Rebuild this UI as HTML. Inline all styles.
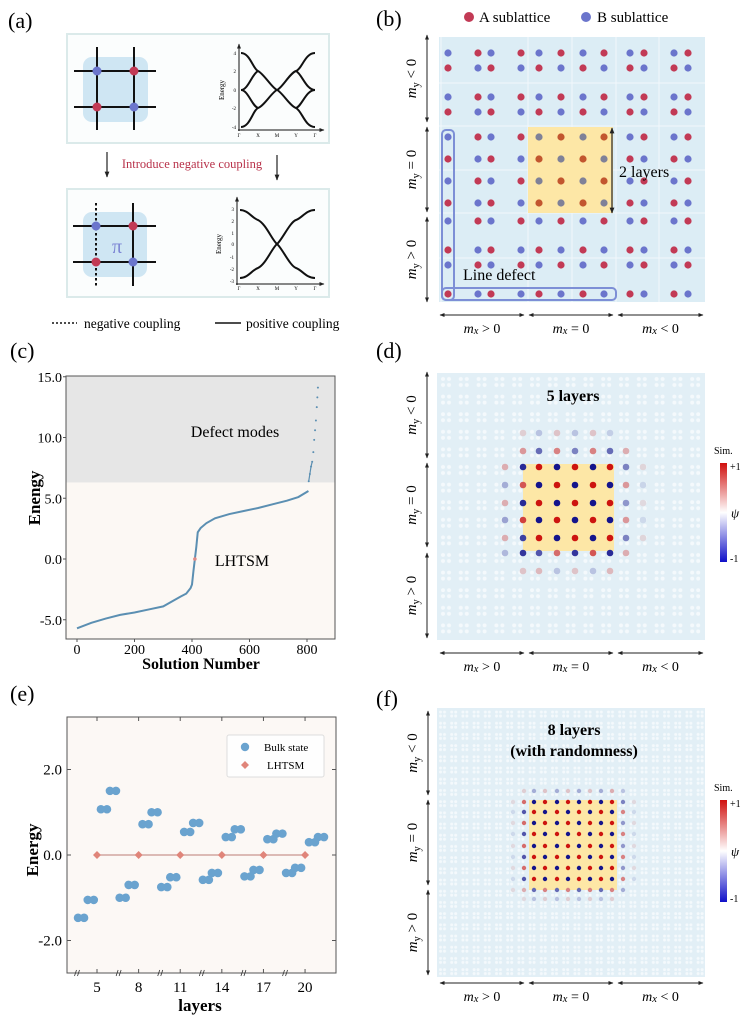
<!DOCTYPE html>
<html><head><meta charset="utf-8">
<style>
html,body{margin:0;padding:0;background:#fff;}
svg{display:block;font-family:"Liberation Serif",serif;}
</style></head>
<body>
<svg id="fig" width="752" height="1024" viewBox="0 0 752 1024" xmlns="http://www.w3.org/2000/svg">
<defs>
<marker id="ah" viewBox="0 0 10 10" refX="9" refY="5" markerWidth="5" markerHeight="5" orient="auto-start-reverse"><path d="M0,1 L10,5 L0,9 z" fill="#222"/></marker>
<linearGradient id="cbar" x1="0" y1="0" x2="0" y2="1">
<stop offset="0" stop-color="#d0100e"/><stop offset="0.5" stop-color="#ffffff"/><stop offset="1" stop-color="#1010c8"/></linearGradient>
<pattern id="wdots" width="17.8" height="17.6" patternUnits="userSpaceOnUse" x="437" y="373">
<rect width="17.8" height="17.6" fill="#e2eff6"/>
<circle cx="6" cy="6" r="2" fill="#f4f9fc"/><circle cx="12" cy="6" r="2" fill="#f4f9fc"/>
<circle cx="6" cy="12" r="2" fill="#f4f9fc"/><circle cx="12" cy="12" r="2" fill="#f4f9fc"/>
</pattern>
<pattern id="wdots2" width="11.2" height="11.2" patternUnits="userSpaceOnUse" x="437" y="708">
<rect width="11.2" height="11.2" fill="#e2eff6"/>
<circle cx="3.5" cy="4" r="1.5" fill="#f4f9fc"/><circle cx="7.5" cy="4" r="1.5" fill="#f4f9fc"/>
<circle cx="3.5" cy="8" r="1.5" fill="#f4f9fc"/><circle cx="7.5" cy="8" r="1.5" fill="#f4f9fc"/>
</pattern>
</defs>

<g>
<text x="8" y="28" font-size="22">(a)</text>
<rect x="67" y="34" width="262" height="109" fill="#fbfdfd" stroke="#dbeaea" stroke-width="2"/>
<g>
<rect x="83" y="57" width="65" height="65" rx="9" fill="#cfe6f3"/>
<g stroke="#111" stroke-width="2"><line x1="97" y1="47" x2="97" y2="130"/><line x1="134" y1="47" x2="134" y2="130"/><line x1="74" y1="71" x2="156" y2="71"/><line x1="74" y1="107" x2="156" y2="107"/></g>
<circle cx="97" cy="71" r="4.5" fill="#6b75cc"/><circle cx="134" cy="71" r="4.5" fill="#c23a55"/>
<circle cx="97" cy="107" r="4.5" fill="#c23a55"/><circle cx="134" cy="107" r="4.5" fill="#6b75cc"/>
</g>
<g font-size="5">
<line x1="239" y1="131" x2="239" y2="44" stroke="#111" stroke-width="1" marker-end="url(#ah)"/>
<line x1="238" y1="130" x2="324" y2="130" stroke="#111" stroke-width="1" marker-end="url(#ah)"/>
<g text-anchor="end"><text x="236" y="55">4</text><text x="236" y="73">2</text><text x="236" y="92">0</text><text x="236" y="110">-2</text><text x="236" y="129">-4</text></g>
<g text-anchor="middle"><text x="239" y="137">Γ</text><text x="258" y="137">X</text><text x="277" y="137">M</text><text x="296" y="137">Y</text><text x="315" y="137">Γ</text></g>
<text transform="translate(224,90) rotate(-90)" text-anchor="middle" font-size="7">Energy</text>
<g fill="none" stroke="#111" stroke-width="2">
<path d="M241 53 C250 53 253 69 258 71 C264 74 272 88 277 90 C282 92 290 106 296 108 C302 111 305 127 315 127"/>
<path d="M241 127 C250 127 253 110 258 108 C264 106 272 92 277 90 C282 88 290 73 296 71 C302 69 305 53 315 53"/>
<path d="M241 90 C248 90 252 74 258 71 M241 90 C248 90 252 106 258 108 M296 71 C302 74 306 90 315 90 M296 108 C302 106 306 90 315 90"/>
</g></g>
<line x1="107" y1="152" x2="107" y2="177" stroke="#222" stroke-width="1.2" marker-end="url(#ah)"/>
<line x1="277" y1="155" x2="277" y2="180" stroke="#222" stroke-width="1.2" marker-end="url(#ah)"/>
<text x="192" y="168" font-size="12.5" fill="#b8324a" text-anchor="middle">Introduce negative coupling</text>
<rect x="67" y="189" width="262" height="108" fill="#fbfdfd" stroke="#dbeaea" stroke-width="2"/>
<g>
<rect x="83" y="212" width="64" height="65" rx="9" fill="#cfe6f3"/>
<g stroke="#111" stroke-width="2"><line x1="133" y1="203" x2="133" y2="286"/><line x1="73" y1="226" x2="156" y2="226"/><line x1="73" y1="262" x2="156" y2="262"/></g>
<line x1="96" y1="203" x2="96" y2="286" stroke="#111" stroke-width="2" stroke-dasharray="2.5,2.5"/>
<circle cx="96" cy="226" r="4.5" fill="#6b75cc"/><circle cx="133" cy="226" r="4.5" fill="#c23a55"/>
<circle cx="96" cy="262" r="4.5" fill="#c23a55"/><circle cx="133" cy="262" r="4.5" fill="#6b75cc"/>
<text x="117" y="253" font-size="20" fill="#7d86d4" text-anchor="middle">π</text>
</g>
<g font-size="5">
<line x1="237" y1="285" x2="237" y2="197" stroke="#111" stroke-width="1" marker-end="url(#ah)"/>
<line x1="236" y1="284" x2="324" y2="284" stroke="#111" stroke-width="1" marker-end="url(#ah)"/>
<g text-anchor="end"><text x="234" y="211">3</text><text x="234" y="223">2</text><text x="234" y="235">1</text><text x="234" y="246">0</text><text x="234" y="259">-1</text><text x="234" y="271">-2</text><text x="234" y="283">-3</text></g>
<g text-anchor="middle"><text x="239" y="290">Γ</text><text x="258" y="290">X</text><text x="277" y="290">M</text><text x="296" y="290">Y</text><text x="315" y="290">Γ</text></g>
<text transform="translate(221,244) rotate(-90)" text-anchor="middle" font-size="7">Energy</text>
<g fill="none" stroke="#111" stroke-width="2">
<path d="M240 210 C248 210 252 218 258 220 C266 224 272 240 277 244 C282 248 290 266 296 268 C302 270 306 278 315 278"/>
<path d="M240 278 C248 278 252 270 258 268 C266 264 272 248 277 244 C282 240 290 222 296 220 C302 218 306 210 315 210"/>
</g></g>
<g font-size="13.5">
<line x1="52" y1="323" x2="77" y2="323" stroke="#111" stroke-width="1.5" stroke-dasharray="2,2"/>
<text x="84" y="328">negative coupling</text>
<line x1="215" y1="323" x2="241" y2="323" stroke="#111" stroke-width="1.5"/>
<text x="246" y="328">positive  coupling</text>
</g>
</g>

<g id="pb">
<text x="376" y="26" font-size="22">(b)</text>
<g font-size="15">
<circle cx="469" cy="17" r="5" fill="#c23a55"/><text x="479" y="22">A sublattice</text>
<circle cx="586" cy="17" r="5" fill="#6b75cc"/><text x="597" y="22">B sublattice</text>
</g>
<rect x="439" y="37" width="266" height="265" fill="#dcedf5"/>
<g stroke="#f2f8fb" stroke-width="1">
<line x1="441" y1="37" x2="441" y2="302"/><line x1="528" y1="37" x2="528" y2="302"/><line x1="572" y1="37" x2="572" y2="302"/><line x1="616" y1="37" x2="616" y2="302"/><line x1="659" y1="37" x2="659" y2="302"/>
<line x1="439" y1="83" x2="705" y2="83"/><line x1="439" y1="126" x2="705" y2="126"/><line x1="439" y1="170" x2="705" y2="170"/><line x1="439" y1="213" x2="705" y2="213"/><line x1="439" y1="258" x2="705" y2="258"/>
</g>
<rect x="528" y="127" width="85" height="86" fill="#fde7a6"/>
<g id="bdots"></g>
<line x1="612" y1="128" x2="612" y2="213" stroke="#222" stroke-width="1.2" marker-start="url(#ah)" marker-end="url(#ah)"/>
<text x="619" y="177" font-size="16">2 layers</text>
<rect x="442" y="130" width="12" height="170" rx="4" fill="none" stroke="#7d8fd6" stroke-width="2"/>
<rect x="442" y="288" width="174" height="12" rx="4" fill="none" stroke="#7d8fd6" stroke-width="2"/>
<text x="463" y="280" font-size="16">Line defect</text>
</g>

<g id="pc">
<text x="10" y="358" font-size="22">(c)</text>
</g>

<g id="pd">
<text x="376" y="358" font-size="22">(d)</text>
<rect x="437" y="373" width="268" height="267" fill="url(#wdots)"/>
<rect x="523" y="464" width="91" height="87" fill="#fde7a6"/>
<text x="573" y="401" font-size="16" font-weight="bold" text-anchor="middle">5 layers</text>
</g>

<g id="pe">
<text x="10" y="701" font-size="22">(e)</text>
</g>

<g id="pf">
<text x="376" y="706" font-size="22">(f)</text>
<rect x="437" y="708" width="268" height="269" fill="url(#wdots2)"/>
<rect x="529" y="800" width="88" height="90" fill="#fde7a6"/>
<text x="574" y="735" font-size="16" font-weight="bold" text-anchor="middle">8 layers</text>
<text x="574" y="756" font-size="16" font-weight="bold" text-anchor="middle">(with randomness)</text>
</g>
</svg>

<script>
// ---- Panel (c) data ----
const cSolution = [0, 50, 100, 150, 200, 250, 300, 330, 360, 380, 395, 400, 405, 415, 420, 430, 450, 480, 530, 580, 630, 680, 730, 770, 805];
const cEnergy = [-5.7, -5.25, -4.9, -4.6, -4.4, -4.15, -3.9, -3.5, -3.1, -2.85, -2.4, -2.1, -1.0, 1.0, 2.2, 2.55, 2.95, 3.35, 3.7, 3.95, 4.2, 4.5, 4.8, 5.1, 5.6];
const cDefectSolution = [806, 810, 814, 818, 822, 825, 828, 831, 834, 836, 838];
const cDefectEnergy = [6.4, 7.0, 7.6, 8.0, 8.8, 9.8, 10.6, 11.4, 12.5, 13.3, 14.1];
const cLhtsm = [410, 0];
const cYTicks = [15, 10, 5, 0, -5];
const cYTickLabels = ["15.0", "10.0", "5.0", "0.0", "-5.0"];
const cXTicks = [0, 200, 400, 600, 800];
const cDefectThreshold = 6.3;

// ---- Panel (e) data ----
const eBulkLayer = [3.85, 4.55, 5.5, 6.15, 6.85, 7.5, 8.5, 9.15, 9.85, 10.5, 11.5, 12.15, 12.85, 13.5, 14.5, 15.15, 15.85, 16.5, 17.5, 18.15, 18.85, 19.5, 20.5, 21.15];
const eBulkEnergy = [-1.47, -1.05, 1.07, 1.5, -1.0, -0.7, 0.72, 1.0, -0.75, -0.52, 0.54, 0.75, -0.58, -0.42, 0.42, 0.6, -0.5, -0.35, 0.37, 0.5, -0.42, -0.3, 0.3, 0.42];
const eLhtsmLayer = [5, 8, 11, 14, 17, 20];
const eLhtsmEnergy = [0, 0, 0, 0, 0, 0];
const eXTicks = [5, 8, 11, 14, 17, 20];
const eYTicks = [2, 0, -2];
const eYTickLabels = ["2.0", "0.0", "-2.0"];

// ---- Panel (d) wavefunction amplitudes ----
const dPsi = [
 [0, 0.15, -0.2, 0.2, -0.2, 0.2, -0.15, 0, 0],
 [0, 0.4, -0.6, 0.5, -0.5, 0.5, -0.6, 0.3, 0],
 [0.3, -0.9, 1, -1, 1, -1, 1, -0.5, 0.12],
 [-0.3, 0.7, -1, 1, -1, 1, -1, 0.4, -0.12],
 [0.3, -0.9, 1, -1, 1, -1, 1, -0.4, 0.1],
 [-0.35, 0.8, -1, 1, -1, 1, -1, 0.4, -0.1],
 [0.3, -0.8, 1, -1, 1, -1, 1, -0.5, 0.12],
 [-0.25, -0.85, -0.7, 0.6, -0.85, 0.7, -0.9, 0.3, 0],
 [0, 0.2, 0.25, -0.2, 0.2, -0.2, 0.25, 0, 0]
];
// ---- Panel (f) wavefunction amplitudes ----
const fPsi = [
 [0, 0.15, -0.3, 0.2, -0.3, 0.2, -0.3, 0.2, -0.3, 0.3, -0.2, 0],
 [0.1, 0.6, -1, 1, -1, 1, -1, 1, -1, 1, -0.5, 0.1],
 [-0.1, -0.7, 1, -1, 1, -1, 1, -1, 1, -1, 0.5, -0.1],
 [0.1, 0.6, -1, 1, -1, 1, -1, 1, -1, 1, -0.4, 0.1],
 [-0.1, -0.7, 1, -1, 1, -1, 1, -1, 1, -1, 0.5, -0.1],
 [0.1, 0.6, -1, 1, -1, 1, -1, 1, -1, 1, -0.4, 0.1],
 [-0.1, -0.7, 1, -1, 1, -1, 1, -1, 1, -1, 0.5, -0.1],
 [0.1, 0.6, -1, 1, -1, 1, -1, 1, -1, 1, -0.4, 0.1],
 [-0.1, -0.7, 1, -1, 1, -1, 1, -1, 1, -1, 0.5, -0.1],
 [0.1, 0.3, -0.6, 0.5, -0.6, 0.5, -0.6, 0.5, -0.6, 0.5, -0.3, 0],
 [0, 0.1, -0.2, 0.15, -0.2, 0.15, -0.2, 0.15, -0.2, 0.15, 0, 0]
];

const NS = "http://www.w3.org/2000/svg";
function mk(tag, attrs, parent) {
  const el = document.createElementNS(NS, tag);
  for (const k in attrs) el.setAttribute(k, attrs[k]);
  parent.appendChild(el);
  return el;
}
function txt(parent, x, y, s, attrs) {
  const t = mk("text", Object.assign({x: x, y: y}, attrs || {}), parent);
  t.textContent = s;
  return t;
}
function psiColor(v) {
  const a = Math.min(1, Math.abs(v));
  const end = v >= 0 ? [205, 20, 15] : [20, 20, 140];
  const base = [226, 239, 246];
  const c = base.map((b, i) => Math.round(b + (end[i] - b) * a));
  return "rgb(" + c.join(",") + ")";
}

(function () {
  const g = document.getElementById("bdots");
  const cols = [448, 478, 491, 521, 539, 561, 583, 604, 630, 644, 674, 688];
  const rows = [53, 68, 97, 112, 137, 159, 181, 203, 221, 250, 265, 294];
  rows.forEach((y, r) => cols.forEach((x, c) => {
    const isB = (r + c) % 2 === 0;
    const inCore = x > 528 && x < 613 && y > 127 && y < 213;
    const col = inCore ? (isB ? "#7f8198" : "#c2562f") : (isB ? "#6b75cc" : "#c23a55");
    const d = mk("circle", {cx: x, cy: y, r: 3.6, fill: col}, g);
    
    
  }));
})();

function latticeAxes(parent, xL, yBands, yArrow, xBands, yLab, fs) {
  const g = mk("g", {}, parent);
  
  
  const ylabs = ["<", "=", ">"];
  yBands.forEach((b, i) => {
    mk("line", {x1: xL, y1: b[0], x2: xL, y2: b[1], stroke: "#222", "stroke-width": 1, "marker-start": "url(#ah)", "marker-end": "url(#ah)"}, g);
    const cy = (b[0] + b[1]) / 2;
    const t = mk("text", {transform: "translate(" + (xL - 11) + "," + cy + ") rotate(-90)", "text-anchor": "middle", "font-size": fs}, g);
    t.innerHTML = '<tspan font-style="italic">m</tspan><tspan font-size="' + (fs * 0.7) + '" dy="3">y</tspan><tspan dy="-3"> ' + ylabs[i] + ' 0</tspan>';
    
    
  });
  const xlabs = [">", "=", "<"];
  xBands.forEach((b, i) => {
    mk("line", {x1: b[0], y1: yArrow, x2: b[1], y2: yArrow, stroke: "#222", "stroke-width": 1, "marker-start": "url(#ah)", "marker-end": "url(#ah)"}, g);
    const t = mk("text", {x: (b[0] + b[1]) / 2, y: yLab, "text-anchor": "middle", "font-size": fs - 1}, g);
    t.innerHTML = '<tspan font-style="italic">m</tspan><tspan font-size="' + (fs * 0.7) + '" font-style="italic" dy="1">x</tspan><tspan dy="-1"> ' + xlabs[i] + ' 0</tspan>';
    
    
  });
}
const xb = [[440, 524], [529, 613], [618, 703]];
latticeAxes(document.getElementById("pb"), 427, [[35, 122], [127, 212], [217, 302]], 315, xb, 333, 15);
latticeAxes(document.getElementById("pd"), 427, [[372, 458], [463, 547], [553, 638]], 653, xb, 671, 15);
latticeAxes(document.getElementById("pf"), 428, [[711, 795], [800, 885], [890, 975]], 983, xb, 1001, 15);

function psiGrid(parent, psi, cols, rows, r, name) {
  const g = mk("g", {}, parent);
  
  
  psi.forEach((row, i) => row.forEach((v, j) => {
    if (Math.abs(v) < 0.05) return;
    const c = mk("circle", {cx: cols[j], cy: rows[i], r: r, fill: psiColor(v)}, g);
    
    
  }));
}
psiGrid(document.getElementById("pd"), dPsi, [505, 523, 539, 557, 575, 593, 610, 626, 643], [433, 451, 467, 485, 503, 520, 538, 553, 571], 3.3, "psi-sites-d");
psiGrid(document.getElementById("pf"), fPsi, [513, 524, 534, 545, 557, 568, 579, 590, 601, 612, 623, 634], [791, 802, 812, 823, 834, 846, 857, 868, 879, 890, 899], 2.2, "psi-sites-f");

function colorbar(parent, y0, y1) {
  const g = mk("g", {}, parent);
  
  
  mk("rect", {x: 720, y: y0, width: 7, height: y1 - y0, fill: "url(#cbar)"}, g);
  txt(g, 714, y0 - 9, "Sim.", {"font-size": 10});
  txt(g, 730, y0 + 7, "+1", {"font-size": 10});
  txt(g, 731, (y0 + y1) / 2 + 5, "ψ", {"font-size": 13, "font-style": "italic"});
  txt(g, 730, y1, "-1", {"font-size": 10});
}
colorbar(document.getElementById("pd"), 463, 562);
colorbar(document.getElementById("pf"), 800, 902);

(function () {
  const p = document.getElementById("pc");
  const L = 66, R = 335, T = 376, B = 639;
  const X = n => 77 + n * 0.2875;
  const Y = e => 559 - e * 12.15;
  const bg = mk("rect", {x: L, y: Y(cDefectThreshold), width: R - L, height: B - Y(cDefectThreshold), fill: "#fcf8f4"}, p);
  
  
  const gr = mk("rect", {x: L, y: T, width: R - L, height: Y(cDefectThreshold) - T, fill: "#e6e6e6"}, p);
  
  
  const fr = mk("rect", {x: L, y: T, width: R - L, height: B - T, fill: "none", stroke: "#555", "stroke-width": 1}, p);
  
  
  const line = mk("polyline", {points: cSolution.map((n, i) => X(n) + "," + Y(cEnergy[i])).join(" "), fill: "none", stroke: "#5b8fb2", "stroke-width": 2}, p);
  
  
  cDefectSolution.forEach((n, i) => {
    const d = mk("circle", {cx: X(n), cy: Y(cDefectEnergy[i]), r: 1, fill: "#5b8fb2"}, p);
    
    
  });
  const dl = mk("polyline", {points: cDefectSolution.slice(0, 4).map((n, i) => X(n) + "," + Y(cDefectEnergy[i])).join(" "), fill: "none", stroke: "#5b8fb2", "stroke-width": 1.2}, p);
  
  
  const lh = mk("circle", {cx: X(cLhtsm[0]), cy: Y(cLhtsm[1]), r: 1.8, fill: "#e08a85"}, p);
  
  
  cYTicks.forEach((v, i) => {
    mk("line", {x1: L - 3, y1: Y(v), x2: L, y2: Y(v), stroke: "#555"}, p);
    const t = txt(p, L - 4, Y(v) + 5, cYTickLabels[i], {"font-size": 14, "text-anchor": "end"});
    
    
  });
  cXTicks.forEach(v => {
    mk("line", {x1: X(v), y1: B, x2: X(v), y2: B + 3, stroke: "#555"}, p);
    const t = txt(p, X(v), B + 15, String(v), {"font-size": 14, "text-anchor": "middle"});
    
    
  });
  const a = txt(p, 235, 437, "Defect  modes", {"font-size": 16, "text-anchor": "middle"});
  
  
  const b = txt(p, 242, 566, "LHTSM", {"font-size": 16, "text-anchor": "middle"});
  
  
  const yl = txt(p, 0, 0, "Enengy", {"font-size": 17, "font-weight": "bold", "text-anchor": "middle", transform: "translate(40,498) rotate(-90)"});
  
  
  const xl = txt(p, 201, 669, "Solution Number", {"font-size": 16, "font-weight": "bold", "text-anchor": "middle"});
  
  
})();

(function () {
  const p = document.getElementById("pe");
  const L = 67, R = 336, T = 717, B = 973;
  const X = l => 97 + (l - 5) * 13.87;
  const Y = e => 855 - e * 42.75;
  const bg = mk("rect", {x: L, y: T, width: R - L, height: B - T, fill: "#fcf8f5", stroke: "#555", "stroke-width": 1}, p);
  
  
  eXTicks.forEach(v => {
    mk("line", {x1: X(v), y1: T, x2: X(v), y2: T + 4, stroke: "#555"}, p);
    mk("line", {x1: X(v), y1: B, x2: X(v), y2: B - 4, stroke: "#555"}, p);
    const bx = X(v) - 20;
    mk("path", {d: "M" + (bx - 2.5) + " " + (B + 3) + " l2 -6 M" + (bx + 0.5) + " " + (B + 3) + " l2 -6", stroke: "#333", "stroke-width": 0.8, fill: "none"}, p);
    const t = txt(p, X(v), B + 19, String(v), {"font-size": 15, "text-anchor": "middle"});
    
    
  });
  eYTicks.forEach((v, i) => {
    mk("line", {x1: L, y1: Y(v), x2: L + 4, y2: Y(v), stroke: "#555"}, p);
    mk("line", {x1: R, y1: Y(v), x2: R - 4, y2: Y(v), stroke: "#555"}, p);
    const t = txt(p, L - 5, Y(v) + 5, eYTickLabels[i], {"font-size": 15, "text-anchor": "end"});
    
    
  });
  const ln = mk("line", {x1: X(eLhtsmLayer[0]), y1: Y(eLhtsmEnergy[0]), x2: X(eLhtsmLayer[eLhtsmLayer.length - 1]), y2: Y(eLhtsmEnergy[eLhtsmEnergy.length - 1]), stroke: "#c9948f", "stroke-width": 1.2}, p);
  
  
  eBulkLayer.forEach((l, i) => {
    [-3, 3].forEach(dx => {
      const c = mk("circle", {cx: X(l) + dx, cy: Y(eBulkEnergy[i]), r: 4.3, fill: "#6aa3cf"}, p);
      
      
    });
  });
  eLhtsmLayer.forEach((l, i) => {
    const x = X(l), y = Y(eLhtsmEnergy[i]);
    const d = mk("path", {d: "M" + x + " " + (y - 4) + " L" + (x + 4) + " " + y + " L" + x + " " + (y + 4) + " L" + (x - 4) + " " + y + "z", fill: "#e0857a"}, p);
    
    
  });
  const lg = mk("g", {}, p);
  
  
  mk("rect", {x: 227, y: 735, width: 97, height: 42, fill: "#fefefe", stroke: "#ddd", rx: 2}, lg);
  mk("circle", {cx: 245, cy: 747, r: 4.2, fill: "#6aa3cf"}, lg);
  txt(lg, 264, 751, "Bulk state", {"font-size": 11});
  mk("path", {d: "M245 761 L249 765 L245 769 L241 765z", fill: "#e0857a"}, lg);
  txt(lg, 267, 769, "LHTSM", {"font-size": 11});
  const yl = txt(p, 0, 0, "Energy", {"font-size": 17, "font-weight": "bold", "text-anchor": "middle", transform: "translate(38,850) rotate(-90)"});
  
  
  const xl = txt(p, 200, 1011, "layers", {"font-size": 17, "font-weight": "bold", "text-anchor": "middle"});
  
  
})();
</script>
</body></html>
